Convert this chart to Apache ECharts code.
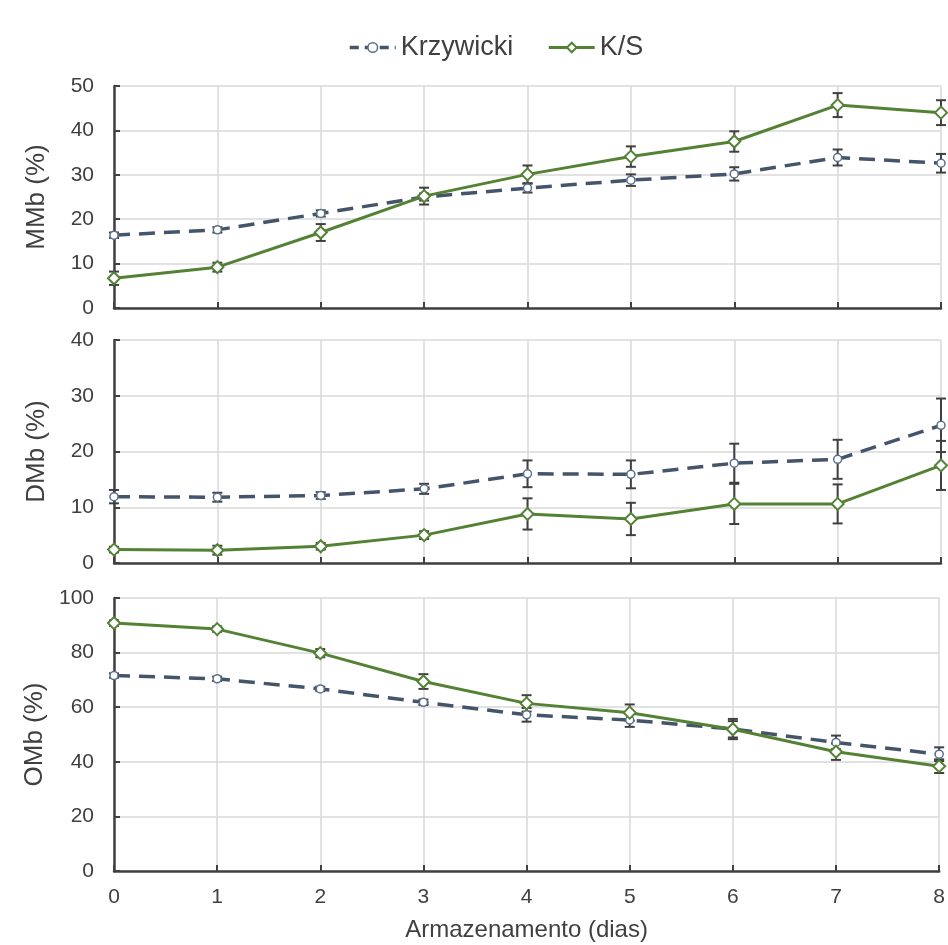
<!DOCTYPE html>
<html>
<head>
<meta charset="utf-8">
<script src="https://cdn.jsdelivr.net/npm/echarts@6/dist/echarts.min.js"></script>
<style>html,body{margin:0;padding:0;background:#fff}#c{width:948px;height:945px}</style>
</head>
<body>
<div id="c"></div>
<script>
const days = [0, 1, 2, 3, 4, 5, 6, 7, 8];
const seriesNames = ['Krzywicki', 'K/S'];
const panelNames = ['MMb (%)', 'DMb (%)', 'OMb (%)'];
const xAxisName = 'Armazenamento (dias)';

const mmbKrz = [16.4, 17.6, 21.3, 25.0, 27.0, 28.8, 30.2, 33.9, 32.6];
const mmbKrzErr = [0.6, 0.6, 0.7, 0.8, 1.0, 1.3, 1.5, 1.8, 2.1];
const mmbKS = [6.7, 9.2, 17.0, 25.2, 30.1, 34.1, 37.5, 45.7, 44.0];
const mmbKSErr = [1.5, 1.0, 1.9, 1.9, 2.0, 2.3, 2.3, 2.7, 2.8];

const dmbKrz = [11.9, 11.8, 12.1, 13.3, 16.0, 15.9, 17.9, 18.6, 24.7];
const dmbKrzErr = [1.2, 0.8, 0.6, 0.9, 2.4, 2.5, 3.5, 3.5, 4.8];
const dmbKS = [2.4, 2.3, 3.0, 5.0, 8.8, 7.9, 10.6, 10.6, 17.5];
const dmbKSErr = [0.5, 0.8, 0.6, 0.7, 2.8, 2.9, 3.6, 3.5, 4.4];

const ombKrz = [71.6, 70.4, 66.7, 61.8, 57.2, 55.3, 52.0, 47.1, 42.8];
const ombKrzErr = [0.8, 0.8, 0.8, 1.0, 2.5, 2.5, 3.7, 2.5, 2.5];
const ombKS = [90.8, 88.6, 79.8, 69.4, 61.4, 58.0, 51.9, 43.7, 38.4];
const ombKSErr = [1.0, 1.0, 1.5, 2.7, 3.0, 3.0, 3.0, 3.0, 2.5];

const yMax = [50, 40, 100];
const yInt = [10, 10, 20];

const panels = [
  { krz: mmbKrz, krzErr: mmbKrzErr, ks: mmbKS, ksErr: mmbKSErr },
  { krz: dmbKrz, krzErr: dmbKrzErr, ks: dmbKS, ksErr: dmbKSErr },
  { krz: ombKrz, krzErr: ombKrzErr, ks: ombKS, ksErr: ombKSErr }
];

const KRZ_COLOR = '#44546a';
const KS_COLOR = '#548235';
const AXIS_COLOR = '#404040';
const GRID_COLOR = '#d9d9d9';
const TXT = '#404040';
const FONT = '"Liberation Sans", Arial, sans-serif';

const gridsPos = [
  { left: 114, right: 7, top: 86, height: 222 },
  { left: 114, right: 7, top: 340, height: 223 },
  { left: 114, right: 7, top: 598, height: 273 }
];

const grid = gridsPos.map(g => Object.assign({ containLabel: false }, g));

const xAxis = gridsPos.map((g, i) => ({
  type: 'value', gridIndex: i, min: 0, max: 8, interval: 1,
  axisLine: { show: true, onZero: false, lineStyle: { color: AXIS_COLOR, width: 2.5 } },
  axisTick: { show: true, inside: true, length: 6, lineStyle: { color: AXIS_COLOR, width: 2 } },
  axisLabel: { show: i === 2, color: TXT, fontSize: 21, margin: 16, fontFamily: FONT },
  splitLine: { show: true, lineStyle: { color: GRID_COLOR, width: 1.5 } },
  name: i === 2 ? xAxisName : '',
  nameLocation: 'middle', nameGap: 47,
  nameTextStyle: { color: TXT, fontSize: 24, fontFamily: FONT }
}));

const yAxis = gridsPos.map((g, i) => ({
  type: 'value', gridIndex: i, min: 0, max: yMax[i], interval: yInt[i],
  axisLine: { show: true, lineStyle: { color: AXIS_COLOR, width: 2.5 } },
  axisTick: { show: true, inside: true, length: 6, lineStyle: { color: AXIS_COLOR, width: 2 } },
  axisLabel: { color: TXT, fontSize: 21, margin: 20, fontFamily: FONT },
  splitLine: { show: true, lineStyle: { color: GRID_COLOR, width: 1.5 } },
  name: panelNames[i], nameLocation: 'middle', nameGap: 64, nameRotate: 90,
  nameTextStyle: { color: TXT, fontSize: 26, fontFamily: FONT }
}));

function errSeries(vals, errs, idx) {
  return {
    type: 'custom', xAxisIndex: idx, yAxisIndex: idx, z: 3, silent: true,
    data: days.map((d, k) => [d, vals[k] - errs[k], vals[k] + errs[k]]),
    renderItem: function (params, api) {
      const x = api.value(0);
      const lo = api.coord([x, api.value(1)]);
      const hi = api.coord([x, api.value(2)]);
      const w = 5;
      const st = { stroke: AXIS_COLOR, lineWidth: 2 };
      return {
        type: 'group', children: [
          { type: 'line', shape: { x1: lo[0], y1: lo[1], x2: hi[0], y2: hi[1] }, style: st },
          { type: 'line', shape: { x1: lo[0] - w, y1: lo[1], x2: lo[0] + w, y2: lo[1] }, style: st },
          { type: 'line', shape: { x1: hi[0] - w, y1: hi[1], x2: hi[0] + w, y2: hi[1] }, style: st }
        ]
      };
    }
  };
}

const series = [];
panels.forEach((p, i) => {
  series.push(errSeries(p.krz, p.krzErr, i));
  series.push(errSeries(p.ks, p.ksErr, i));
  series.push({
    name: seriesNames[0], type: 'line', xAxisIndex: i, yAxisIndex: i, z: 4,
    data: days.map((d, k) => [d, p.krz[k]]),
    symbol: 'circle', symbolSize: 8,
    lineStyle: { color: KRZ_COLOR, width: 3.5, type: [16, 9] },
    itemStyle: { color: '#fff', borderColor: '#5b6f8e', borderWidth: 1.5 },
    animation: false
  });
  series.push({
    name: seriesNames[1], type: 'line', xAxisIndex: i, yAxisIndex: i, z: 5,
    data: days.map((d, k) => [d, p.ks[k]]),
    symbol: 'diamond', symbolSize: 12,
    lineStyle: { color: KS_COLOR, width: 3 },
    itemStyle: { color: '#fff', borderColor: KS_COLOR, borderWidth: 2 },
    animation: false
  });
});

const chart = echarts.init(document.getElementById('c'), null, { renderer: 'canvas' });
chart.setOption({
  animation: false,
  backgroundColor: '#fff',
  legend: {
    top: 29, left: 343, itemGap: 34, itemWidth: 46, itemHeight: 12,
    data: [
      { name: seriesNames[0], itemStyle: { color: '#fff', borderColor: '#5b6f8e', borderWidth: 1.5 }, lineStyle: { color: KRZ_COLOR, width: 3.5, type: [9, 6] } },
      { name: seriesNames[1], itemStyle: { color: '#fff', borderColor: KS_COLOR, borderWidth: 2 }, lineStyle: { color: KS_COLOR, width: 3 } }
    ],
    textStyle: { color: TXT, fontSize: 27, fontFamily: FONT }
  },
  grid: grid,
  xAxis: xAxis,
  yAxis: yAxis,
  series: series
});
</script>
</body>
</html>
